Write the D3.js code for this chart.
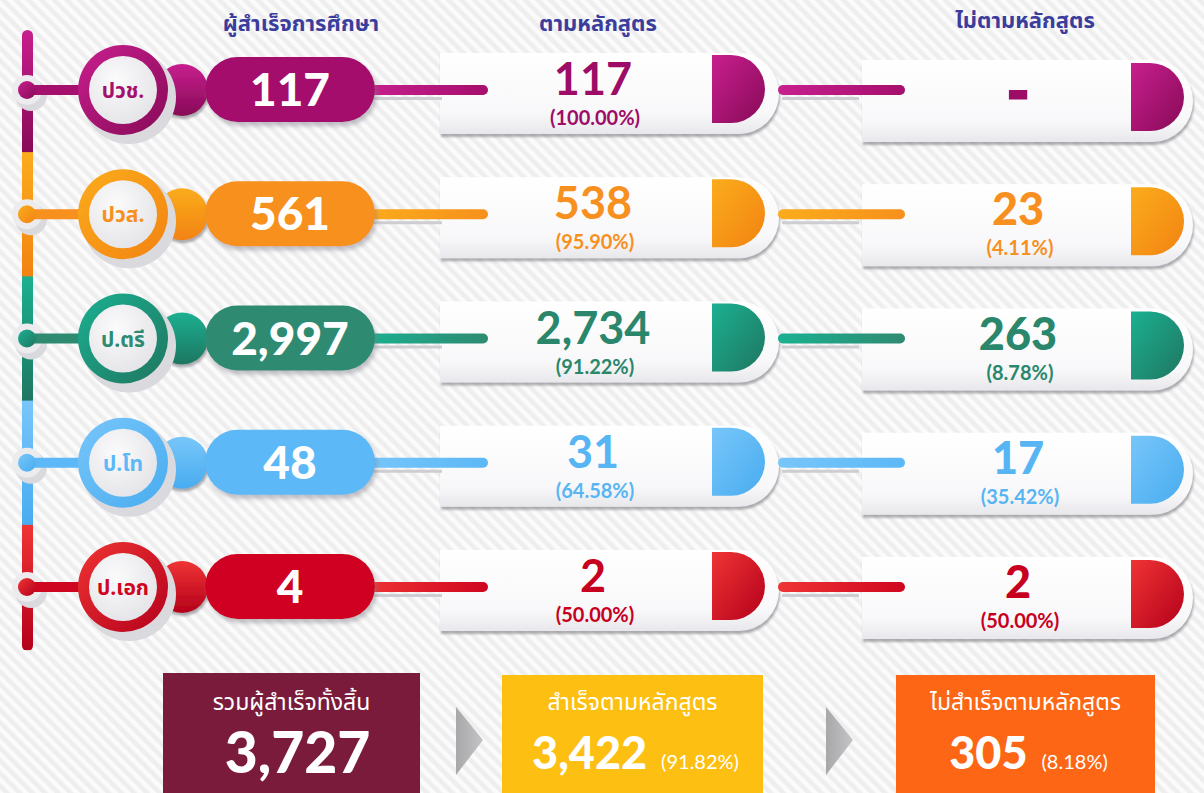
<!DOCTYPE html>
<html>
<head>
<meta charset="utf-8">
<script src="https://cdn.jsdelivr.net/npm/d3@7"></script>
<style>
  html, body { margin: 0; padding: 0; background: #f1f1f2; }
  svg { display: block; }
</style>
</head>
<body>
<div id="chart"></div>
<script>
// ---- data ----
const levels = ["ปวช.", "ปวส.", "ป.ตรี", "ป.โท", "ป.เอก"];
const graduates = [117, 561, 2997, 48, 4];
const onTime = [117, 538, 2734, 31, 2];
const onTimePct = [100.00, 95.90, 91.22, 64.58, 50.00];
const notOnTime = [0, 23, 263, 17, 2];
const notOnTimePct = [null, 4.11, 8.78, 35.42, 50.00];

const headers = ["ผู้สำเร็จการศึกษา", "ตามหลักสูตร", "ไม่ตามหลักสูตร"];
const totalLabels = ["รวมผู้สำเร็จทั้งสิ้น", "สำเร็จตามหลักสูตร", "ไม่สำเร็จตามหลักสูตร"];

// colours for each level (light / main / dark / text)
const palette = [
  {main: "#a50f6d", light: "#c81f8e", dark: "#870a57", text: "#9d0d67"},
  {main: "#f7901c", light: "#fbac1c", dark: "#f28312", text: "#f7901e"},
  {main: "#2e8b71", light: "#1bb091", dark: "#1f7660", text: "#2a876b"},
  {main: "#5cb8f6", light: "#78c6fa", dark: "#48acef", text: "#58b5f4"},
  {main: "#cf0620", light: "#ef3434", dark: "#b4001b", text: "#c70020"}
];
const boxColors = ["#7a1b3c", "#fdbf12", "#fd6614"];

const thai = "'Noto Sans Thai', 'Noto Sans', 'Open Sans', sans-serif";
const num = "Lato, 'Open Sans', sans-serif";
const fmt = d3.format(",");
const pct = d3.format(".2f");

const W = 1204, H = 793;

const rows = levels.map((level, i) => ({
  level, i,
  grad: graduates[i],
  on: onTime[i], onPct: onTimePct[i],
  off: notOnTime[i], offPct: notOnTimePct[i]
}));

const totalAll = d3.sum(graduates);
const totalOn = d3.sum(onTime);
const totalOff = d3.sum(notOnTime);
const totals = [
  {label: totalLabels[0], value: totalAll, pct: null},
  {label: totalLabels[1], value: totalOn, pct: totalOn / totalAll * 100},
  {label: totalLabels[2], value: totalOff, pct: totalOff / totalAll * 100}
];

// rows placed with a point scale
const y = d3.scalePoint().domain(levels).range([90, 587]);
const step = y.step();

const svg = d3.select("#chart").append("svg")
  .attr("width", W).attr("height", H);

const defs = svg.append("defs");

// striped background
const pat = defs.append("pattern")
  .attr("id", "stripes")
  .attr("width", 9).attr("height", 9)
  .attr("patternUnits", "userSpaceOnUse")
  .attr("patternTransform", "rotate(45)");
pat.append("rect").attr("width", 9).attr("height", 9).attr("fill", "#eeeeef");
pat.append("rect").attr("width", 9).attr("height", 4.5).attr("fill", "#fbfbfb");

const sh = defs.append("filter").attr("id", "sh")
  .attr("x", "-20%").attr("y", "-30%").attr("width", "150%").attr("height", "180%");
sh.append("feDropShadow").attr("dx", 2).attr("dy", 4).attr("stdDeviation", 2)
  .attr("flood-color", "#7d7d86").attr("flood-opacity", 0.45);

const shLight = defs.append("filter").attr("id", "shl")
  .attr("x", "-20%").attr("y", "-30%").attr("width", "150%").attr("height", "180%");
shLight.append("feDropShadow").attr("dx", 1).attr("dy", 3).attr("stdDeviation", 1.2)
  .attr("flood-color", "#707078").attr("flood-opacity", 0.55);

palette.forEach((c, i) => {
  const h = defs.append("linearGradient").attr("id", "hg" + i)
    .attr("x1", 0).attr("x2", 1).attr("y1", 0).attr("y2", 0);
  h.append("stop").attr("offset", 0).attr("stop-color", c.light);
  h.append("stop").attr("offset", 1).attr("stop-color", c.main);

  const v = defs.append("linearGradient").attr("id", "vg" + i)
    .attr("x1", 0).attr("x2", 0).attr("y1", 0).attr("y2", 1);
  v.append("stop").attr("offset", 0).attr("stop-color", c.light);
  v.append("stop").attr("offset", 1).attr("stop-color", c.dark);

  const dg = defs.append("linearGradient").attr("id", "dg" + i)
    .attr("x1", 0).attr("x2", 1).attr("y1", 0).attr("y2", 1);
  dg.append("stop").attr("offset", 0).attr("stop-color", c.light);
  dg.append("stop").attr("offset", 1).attr("stop-color", c.dark);
});

const card = defs.append("linearGradient").attr("id", "card")
  .attr("x1", 0).attr("x2", 0).attr("y1", 0).attr("y2", 1);
card.append("stop").attr("offset", 0).attr("stop-color", "#ffffff");
card.append("stop").attr("offset", 0.75).attr("stop-color", "#f8f8fa");
card.append("stop").attr("offset", 1).attr("stop-color", "#e8e8ec");

const inner = defs.append("radialGradient").attr("id", "inner")
  .attr("cx", 0.4).attr("cy", 0.35).attr("r", 0.7);
inner.append("stop").attr("offset", 0).attr("stop-color", "#fbfbfc");
inner.append("stop").attr("offset", 1).attr("stop-color", "#e4e4e8");

const arrowG = defs.append("linearGradient").attr("id", "arrow")
  .attr("x1", 0).attr("x2", 1);
arrowG.append("stop").attr("offset", 0).attr("stop-color", "#a8a8aa");
arrowG.append("stop").attr("offset", 1).attr("stop-color", "#c4c4c6");

svg.append("rect").attr("width", W).attr("height", H).attr("fill", "url(#stripes)");

// column headers
svg.append("g").selectAll("text")
  .data(headers)
  .join("text")
    .attr("x", (d, i) => [301, 598, 1025][i])
    .attr("y", (d, i) => i == 2 ? 28 : 31)
    .attr("text-anchor", "middle")
    .attr("font-family", thai)
    .attr("font-weight", 700)
    .attr("font-size", 22)
    .attr("fill", "#3b3d9c")
    .text(d => d);

// card / D shape: flat left side, round right end
function roundEnd(x0, x1, top, bottom) {
  const r = (bottom - top) / 2;
  return `M${x0},${top}H${x1 - r}A${r},${r} 0 0 1 ${x1 - r},${bottom}H${x0}Z`;
}

// vertical spine on the left, one coloured piece per level
defs.append("clipPath").attr("id", "spine")
  .append("rect")
    .attr("x", 22).attr("width", 11)
    .attr("y", y(levels[0]) - 60)
    .attr("height", y(levels[levels.length - 1]) - y(levels[0]) + 124)
    .attr("rx", 5.5);

svg.append("g").attr("clip-path", "url(#spine)")
  .selectAll("rect")
  .data(rows)
  .join("rect")
    .attr("x", 22).attr("width", 11)
    .attr("y", d => y(d.level) - step / 2)
    .attr("height", step + 1)
    .attr("fill", d => `url(#vg${d.i})`);

const row = svg.append("g").selectAll("g")
  .data(rows)
  .join("g")
    .attr("transform", d => `translate(0,${y(d.level)})`);

// thick rounded bar used as connector
function bar(sel, x0, x1) {
  sel.append("rect")
    .attr("x", x0 + 4).attr("y", 7).attr("width", x1 - x0 - 50).attr("height", 3)
    .attr("fill", "#cdcdd2");
  sel.append("rect")
    .attr("x", x0).attr("y", -5).attr("width", x1 - x0).attr("height", 10)
    .attr("rx", 5)
    .attr("fill", d => `url(#hg${d.i})`);
}

// middle card (on time)
row.append("path")
  .attr("d", roundEnd(440, 779, -37, 44))
  .attr("fill", "url(#card)")
  .attr("filter", "url(#shl)");
row.append("path")
  .attr("d", roundEnd(712, 765, -35, 33))
  .attr("fill", d => `url(#dg${d.i})`);
row.append("text")
  .attr("x", 593).attr("y", 5)
  .attr("text-anchor", "middle")
  .attr("font-family", num).attr("font-weight", 700).attr("font-size", 45)
  .attr("fill", d => palette[d.i].text)
  .text(d => fmt(d.on));
row.append("text")
  .attr("x", 595).attr("y", 35)
  .attr("text-anchor", "middle")
  .attr("font-family", num).attr("font-weight", 700).attr("font-size", 20)
  .attr("fill", d => palette[d.i].text)
  .text(d => `(${pct(d.onPct)}%)`);

// right card (not on time)
row.append("path")
  .attr("d", roundEnd(862, 1193, -30, 52))
  .attr("fill", "url(#card)")
  .attr("filter", "url(#shl)");
row.append("path")
  .attr("d", roundEnd(1131, 1184, -27, 41))
  .attr("fill", d => `url(#dg${d.i})`);
row.append("text")
  .attr("x", 1018).attr("y", d => d.off ? 11 : 22)
  .attr("text-anchor", "middle")
  .attr("font-family", num).attr("font-weight", 900)
  .attr("font-size", d => d.off ? 45 : 58)
  .attr("stroke", d => d.off ? "none" : palette[d.i].text)
  .attr("stroke-width", 3)
  .attr("fill", d => palette[d.i].text)
  .text(d => d.off ? fmt(d.off) : "-");
row.filter(d => d.offPct != null).append("text")
  .attr("x", 1020).attr("y", 41)
  .attr("text-anchor", "middle")
  .attr("font-family", num).attr("font-weight", 700).attr("font-size", 20)
  .attr("fill", d => palette[d.i].text)
  .text(d => `(${pct(d.offPct)}%)`);

// connectors lie on top of the cards
bar(row, 362, 488);
bar(row, 778, 905);

// left part: dot, stub, ring badge, knob, pill
row.append("circle")
  .attr("cx", 31).attr("cy", 5).attr("r", 16)
  .attr("fill", "#d9d9de");
row.append("circle")
  .attr("cx", 27).attr("cy", 0).attr("r", 15)
  .attr("fill", "#ececef");
row.append("rect")
  .attr("x", 30).attr("y", -5).attr("width", 65).attr("height", 10)
  .attr("fill", d => palette[d.i].main);
row.append("circle")
  .attr("cx", 27).attr("cy", 0).attr("r", 9)
  .attr("fill", d => `url(#dg${d.i})`);

row.append("circle")
  .attr("cx", 182).attr("cy", 0).attr("r", 26)
  .attr("fill", d => `url(#vg${d.i})`)
  .attr("filter", "url(#shl)");

row.append("circle")
  .attr("cx", 129).attr("cy", 7).attr("r", 47)
  .attr("fill", "#dadade");
row.append("circle")
  .attr("cx", 123).attr("cy", 0).attr("r", 45)
  .attr("fill", d => `url(#dg${d.i})`);
row.append("circle")
  .attr("cx", 123).attr("cy", 0).attr("r", 34)
  .attr("fill", "url(#inner)");
row.append("text")
  .attr("x", 123).attr("y", 8)
  .attr("text-anchor", "middle")
  .attr("font-family", thai).attr("font-weight", 700).attr("font-size", 21)
  .attr("fill", d => palette[d.i].main)
  .text(d => d.level);

row.append("rect")
  .attr("x", 205).attr("y", -33)
  .attr("width", 170).attr("height", 65)
  .attr("rx", 32.5)
  .attr("fill", d => palette[d.i].main)
  .attr("filter", "url(#sh)");
row.append("text")
  .attr("x", 290).attr("y", 16)
  .attr("text-anchor", "middle")
  .attr("font-family", num).attr("font-weight", 900).attr("font-size", 46)
  .attr("fill", "#ffffff")
  .text(d => fmt(d.grad));

// ---- totals along the bottom ----
const boxX = [[163, 420], [502, 763], [896, 1155]];
const box = svg.append("g").selectAll("g")
  .data(totals)
  .join("g");

box.append("rect")
  .attr("x", (d, i) => boxX[i][0])
  .attr("y", (d, i) => i == 0 ? 673 : 675)
  .attr("width", (d, i) => boxX[i][1] - boxX[i][0])
  .attr("height", 130)
  .attr("fill", (d, i) => boxColors[i]);

box.append("text")
  .attr("x", (d, i) => (boxX[i][0] + boxX[i][1]) / 2)
  .attr("y", 710)
  .attr("text-anchor", "middle")
  .attr("font-family", thai).attr("font-size", 23)
  .attr("fill", "#ffffff")
  .text(d => d.label);

const big = box.append("text")
  .attr("x", (d, i) => (boxX[i][0] + boxX[i][1]) / 2 + (i == 0 ? 6 : 3))
  .attr("y", (d, i) => i == 0 ? 773 : 769)
  .attr("text-anchor", "middle")
  .attr("font-family", num).attr("font-weight", 900)
  .attr("fill", "#ffffff");
big.append("tspan")
  .attr("font-size", (d, i) => i == 0 ? 57 : 45)
  .text(d => fmt(d.value));
big.filter(d => d.pct != null).append("tspan")
  .attr("dx", 14)
  .attr("font-size", 20)
  .attr("font-weight", 400)
  .text(d => `(${pct(d.pct)}%)`);

// grey arrows between the boxes
svg.append("g").selectAll("path")
  .data([0, 1])
  .join("path")
    .attr("d", i => {
      const x0 = [boxX[0][1] + 36, boxX[1][1] + 63][i];
      return `M${x0},707L${x0 + 27},740L${x0},775Z`;
    })
    .attr("fill", "url(#arrow)");
</script>
</body>
</html>
